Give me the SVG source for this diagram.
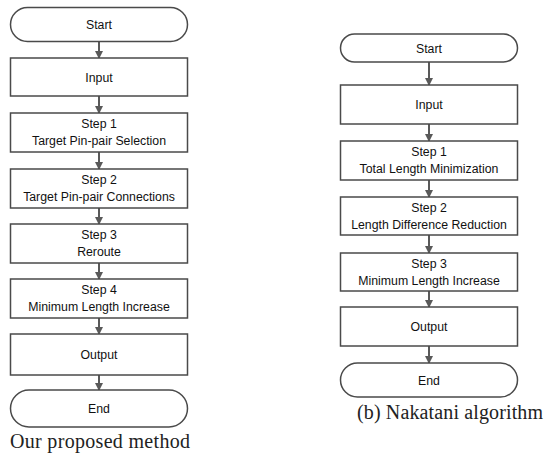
<svg xmlns="http://www.w3.org/2000/svg" width="545" height="459" viewBox="0 0 545 459">
<defs>
<style>
.box{fill:#fff;stroke:#4a4a4a;stroke-width:1.5}
.lbl{font-family:"Liberation Sans",Arial,sans-serif;font-size:12.3px;fill:#111;text-anchor:middle}
.cap{font-family:"Liberation Serif","Times New Roman",serif;font-size:20px;fill:#222}
.arr{stroke:#595959;stroke-width:2;fill:none;marker-end:url(#ah)}
</style>
<marker id="ah" markerWidth="4" markerHeight="4" refX="3.5" refY="2" orient="auto" markerUnits="strokeWidth">
<path d="M0,0 L4,2 L0,4 Z" fill="#595959"/>
</marker>
</defs>
<rect width="545" height="459" fill="#fff"/>
<g id="connectors">
<line class="arr" x1="99" y1="42" x2="99" y2="58"/>
<line class="arr" x1="99" y1="96" x2="99" y2="113"/>
<line class="arr" x1="99" y1="152" x2="99" y2="169"/>
<line class="arr" x1="99" y1="208" x2="99" y2="224"/>
<line class="arr" x1="99" y1="263" x2="99" y2="279"/>
<line class="arr" x1="99" y1="318" x2="99" y2="334"/>
<line class="arr" x1="99" y1="375" x2="99" y2="390"/>
<line class="arr" x1="429" y1="62" x2="429" y2="85"/>
<line class="arr" x1="429" y1="124" x2="429" y2="141"/>
<line class="arr" x1="429" y1="180" x2="429" y2="197"/>
<line class="arr" x1="429" y1="235" x2="429" y2="253"/>
<line class="arr" x1="429" y1="291" x2="429" y2="307"/>
<line class="arr" x1="429" y1="346" x2="429" y2="363"/>
</g>
<g id="a-start"><rect class="box" x="10.5" y="7.5" width="177" height="34" rx="17"/><text class="lbl" x="99" y="29">Start</text></g>
<g id="a-input"><rect class="box" x="10.5" y="58" width="177" height="38"/><text class="lbl" x="99" y="81.5">Input</text></g>
<g id="a-step1"><rect class="box" x="10.5" y="113" width="177" height="39"/><text class="lbl" x="99" y="128">Step 1</text><text class="lbl" x="99" y="145">Target Pin-pair Selection</text></g>
<g id="a-step2"><rect class="box" x="10.5" y="169" width="177" height="39"/><text class="lbl" x="99" y="184">Step 2</text><text class="lbl" x="99" y="201">Target Pin-pair Connections</text></g>
<g id="a-step3"><rect class="box" x="10.5" y="224" width="177" height="39"/><text class="lbl" x="99" y="239">Step 3</text><text class="lbl" x="99" y="256">Reroute</text></g>
<g id="a-step4"><rect class="box" x="10.5" y="279" width="177" height="39"/><text class="lbl" x="99" y="294">Step 4</text><text class="lbl" x="99" y="311">Minimum Length Increase</text></g>
<g id="a-output"><rect class="box" x="10.5" y="334" width="177" height="41"/><text class="lbl" x="99" y="359">Output</text></g>
<g id="a-end"><rect class="box" x="10.5" y="390" width="177" height="37" rx="18.5"/><text class="lbl" x="99" y="413">End</text></g>
<text class="cap" x="10" y="448" textLength="180" lengthAdjust="spacing">Our proposed method</text>
<g id="b-start"><rect class="box" x="340.5" y="34" width="177" height="28" rx="14"/><text class="lbl" x="429" y="52.5">Start</text></g>
<g id="b-input"><rect class="box" x="340.5" y="85" width="177" height="39"/><text class="lbl" x="429" y="109">Input</text></g>
<g id="b-step1"><rect class="box" x="340.5" y="141" width="177" height="39"/><text class="lbl" x="429" y="156">Step 1</text><text class="lbl" x="429" y="173">Total Length Minimization</text></g>
<g id="b-step2"><rect class="box" x="340.5" y="197" width="177" height="38"/><text class="lbl" x="429" y="211.5">Step 2</text><text class="lbl" x="429" y="228.5">Length Difference Reduction</text></g>
<g id="b-step3"><rect class="box" x="340.5" y="253" width="177" height="38"/><text class="lbl" x="429" y="267.5">Step 3</text><text class="lbl" x="429" y="284.5">Minimum Length Increase</text></g>
<g id="b-output"><rect class="box" x="340.5" y="307" width="177" height="39"/><text class="lbl" x="429" y="331">Output</text></g>
<g id="b-end"><rect class="box" x="340.5" y="363" width="177" height="34" rx="17"/><text class="lbl" x="429" y="384.5">End</text></g>
<text class="cap" x="357" y="419" textLength="186" lengthAdjust="spacing">(b) Nakatani algorithm</text>
</svg>
